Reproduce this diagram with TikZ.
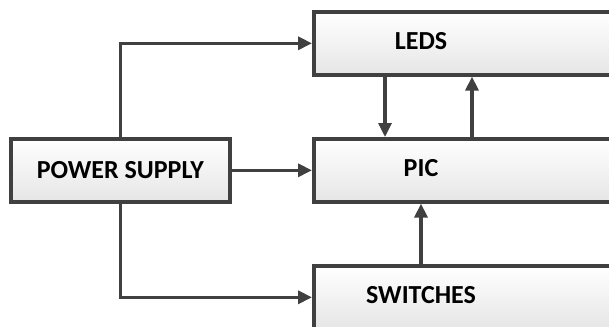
\documentclass[tikz,border=0pt]{standalone}
\usepackage{fontspec}
\setmainfont{Carlito}
\usetikzlibrary{arrows.meta, shadows}

\tikzset{
  block/.style={draw=black!75, line width=3.6pt, rectangle, minimum height=63pt,
    top color=white, bottom color=black!10,
    drop shadow={shadow xshift=2.5pt, shadow yshift=-2.5pt, fill=black!12}},
  lbl/.style={font=\bfseries\fontsize{26}{30}\selectfont, inner sep=0pt},
  conn/.style={draw=black!75, line width=3.2pt, -{Triangle[length=14pt, width=13pt]}}
}

\begin{document}
\begin{tikzpicture}[x=1pt, y=-1pt]
  \useasboundingbox (0,0) rectangle (609,326);
  \clip (0,0) rectangle (609,326);

  \node[block, minimum width=219pt, anchor=north west] (ps) at (9,137) {};
  \node[lbl] (pstxt) at (ps.center) {POWER SUPPLY};

  \node[block, minimum width=400pt, anchor=north west] (leds) at (312,10) {};
  \node[block, minimum width=400pt, anchor=north west] (pic) at (312,137) {};
  \node[block, minimum width=400pt, anchor=north west] (sw) at (312,264) {};
  \node[lbl] (ledstxt) at (421,41.5) {LEDS};
  \node[lbl] (pictxt) at (421,168.5) {PIC};
  \node[lbl] (swtxt) at (421,295.5) {SWITCHES};

  \draw[conn] (ps.north) |- (leds.west);
  \draw[conn] (ps.east) -- (pic.west);
  \draw[conn] (ps.south) |- (sw.west);
  \draw[conn] ([xshift=73pt]leds.south west) -- ([xshift=73pt]pic.north west);
  \draw[conn] ([xshift=160pt]pic.north west) -- ([xshift=160pt]leds.south west);
  \draw[conn] ([xshift=109pt]sw.north west) -- ([xshift=109pt]pic.south west);
\end{tikzpicture}
\end{document}
